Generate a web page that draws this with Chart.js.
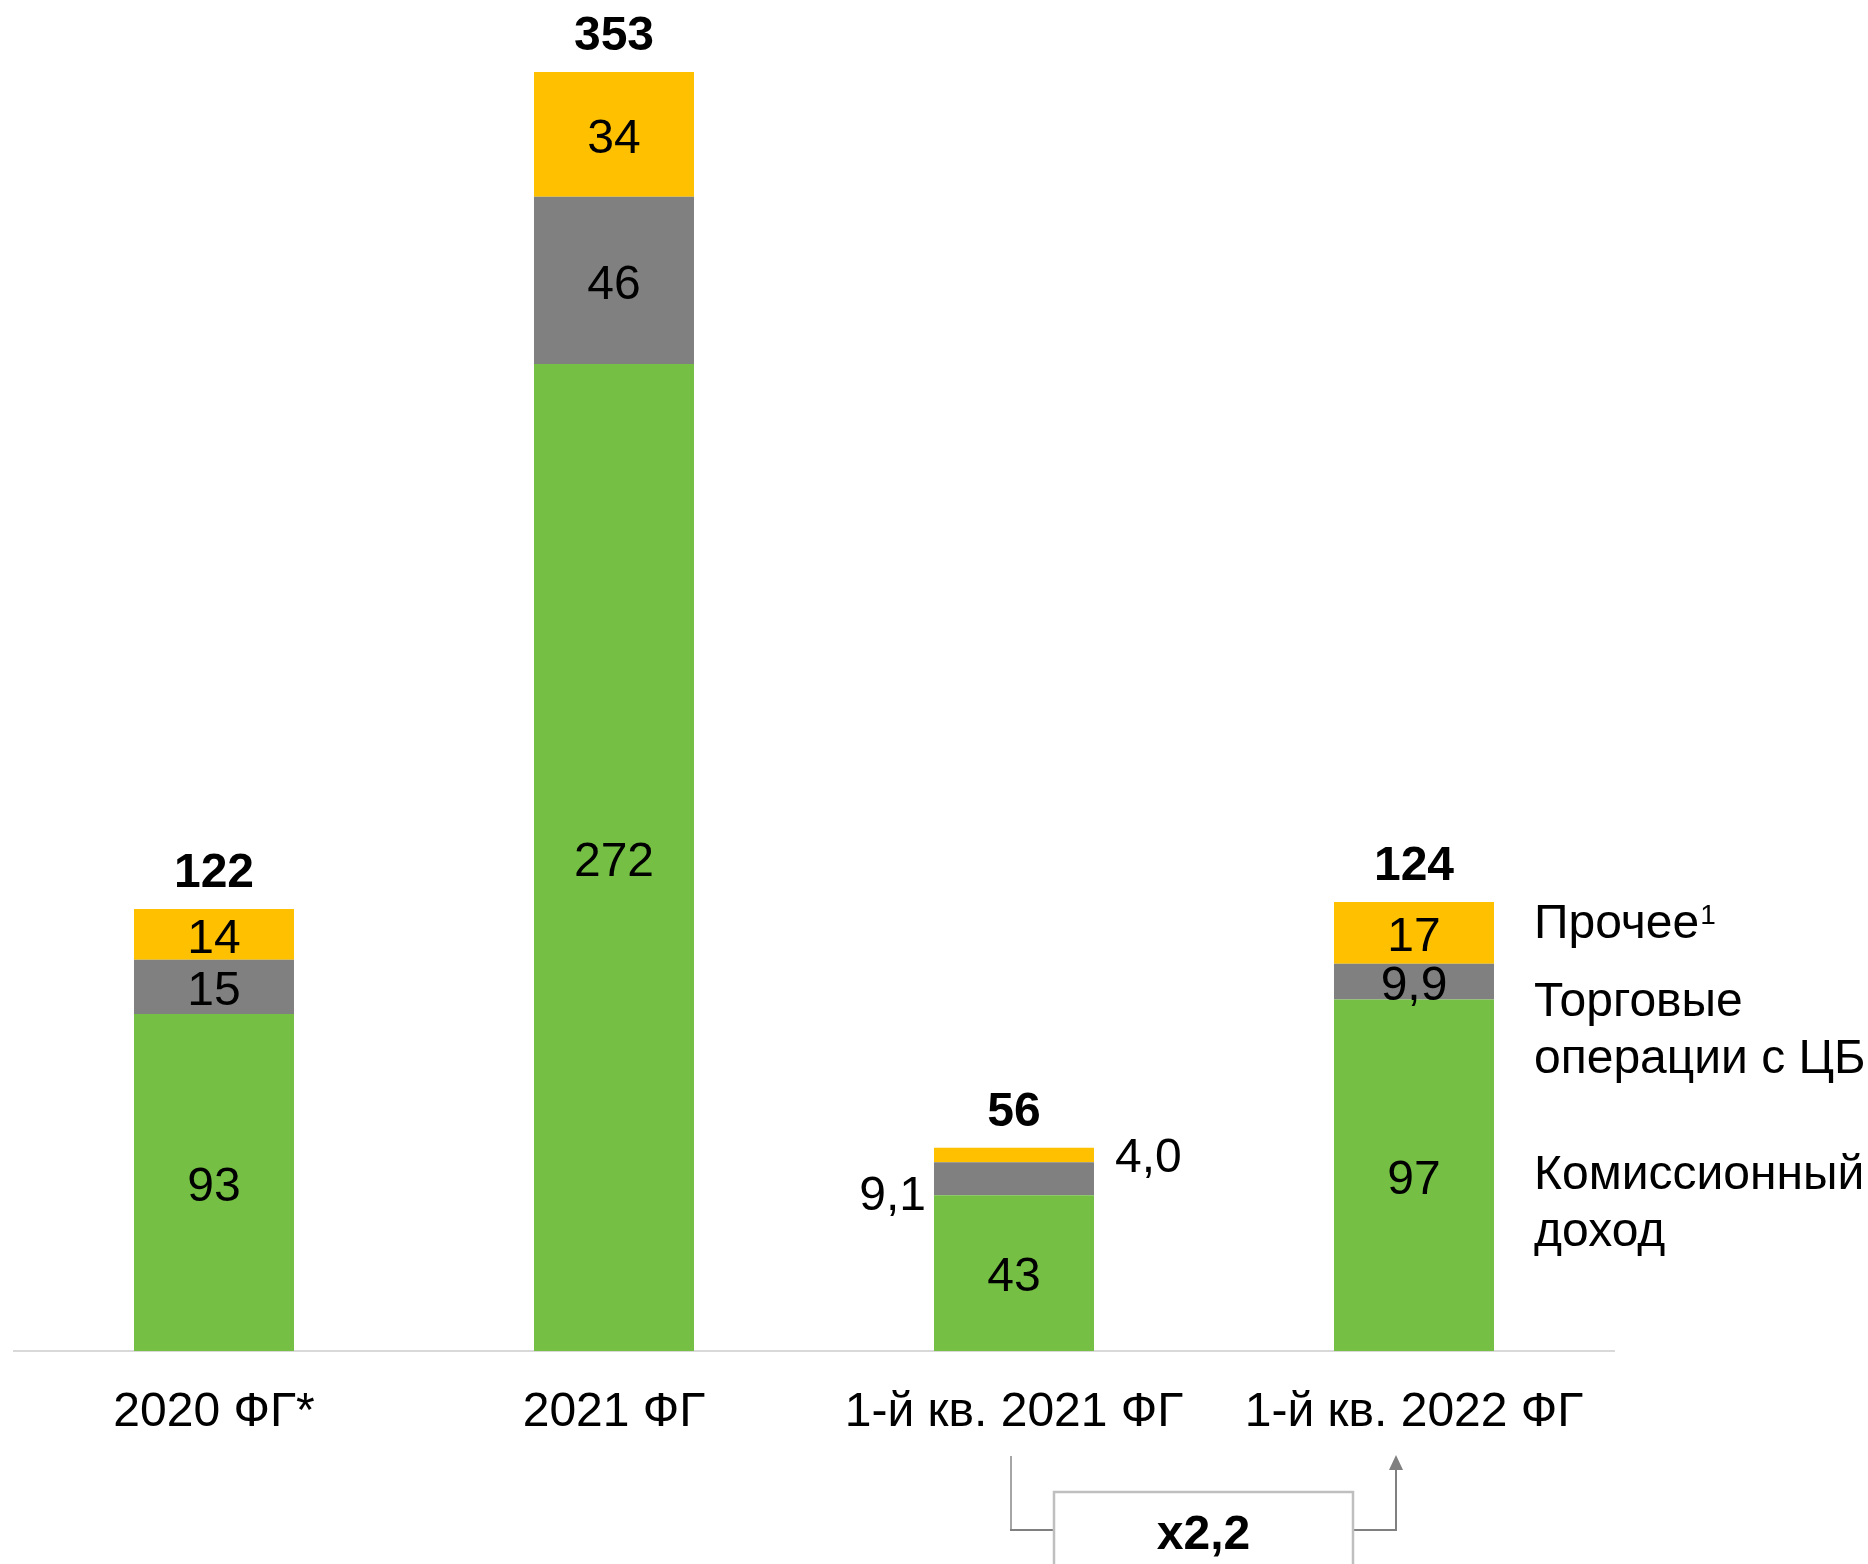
<!DOCTYPE html>
<html>
<head>
<meta charset="utf-8">
<script src="https://cdn.jsdelivr.net/npm/chart.js@4"></script>
<style>
  html, body { margin: 0; padding: 0; background: #ffffff; }
  canvas { display: block; }
</style>
</head>
<body>
<canvas id="c" width="1868" height="1564"></canvas>
<script>
// ---- data ----
const categories = ['2020 ФГ*', '2021 ФГ', '1-й кв. 2021 ФГ', '1-й кв. 2022 ФГ'];
const commission = [93, 272.4, 43, 97];     // Комиссионный доход
const trading    = [15, 46.2, 9.1, 9.9];    // Торговые операции с ЦБ
const other      = [14, 34.4, 4.0, 17];     // Прочее
const seriesNames = ['Комиссионный доход', 'Торговые операции с ЦБ', 'Прочее'];
const legendLines = [['Прочее'], ['Торговые', 'операции с ЦБ'], ['Комиссионный', 'доход']];
const growthLabel = 'x2,2';

const FONT = '"Liberation Sans", Arial, Helvetica, sans-serif';
const FS = 48;
const colors = ['#75BF44', '#808080', '#FFC000'];

function fmt(v) {
  if (v >= 10) return String(Math.round(v));
  return v.toFixed(1).replace('.', ',');
}

const labelPlugin = {
  id: 'labels',
  afterDatasetsDraw(chart) {
    const ctx = chart.ctx;
    const ds = chart.data.datasets;
    ctx.save();
    ctx.fillStyle = '#000';
    ctx.font = FS + 'px ' + FONT;
    ctx.textBaseline = 'middle';
    ds.forEach((d, i) => {
      const meta = chart.getDatasetMeta(i);
      meta.data.forEach((bar, j) => {
        const t = fmt(d.data[j]);
        const half = bar.width / 2;
        if (j === 2 && i === 1) {
          ctx.textAlign = 'right';
          ctx.fillText(t, bar.x - half - 8, bar.base + 2);
        } else if (j === 2 && i === 2) {
          ctx.textAlign = 'left';
          ctx.fillText(t, bar.x + half + 21, (bar.y + bar.base) / 2 + 4);
        } else {
          ctx.textAlign = 'center';
          ctx.fillText(t, bar.x, (bar.y + bar.base) / 2 + 5);
        }
      });
    });
    // totals
    ctx.font = 'bold ' + FS + 'px ' + FONT;
    ctx.textAlign = 'center';
    const topMeta = chart.getDatasetMeta(ds.length - 1);
    categories.forEach((c, j) => {
      let s = 0;
      ds.forEach(d => s += d.data[j]);
      const bar = topMeta.data[j];
      ctx.fillText(String(Math.round(s)), bar.x, bar.y - 35);
    });

    // legend text on the right
    ctx.font = FS + 'px ' + FONT;
    ctx.textAlign = 'left';
    ctx.textBaseline = 'alphabetic';
    const lx = 1534;
    ctx.fillText(legendLines[0][0], lx, 938);
    const w = ctx.measureText(legendLines[0][0]).width;
    ctx.font = '28px ' + FONT;
    ctx.fillText('1', lx + w + 1, 924);
    ctx.font = FS + 'px ' + FONT;
    ctx.fillText(legendLines[1][0], lx, 1016);
    ctx.fillText(legendLines[1][1], lx, 1073);
    ctx.fillText(legendLines[2][0], lx, 1189);
    ctx.fillText(legendLines[2][1], lx, 1246);

    // growth bracket
    const xs = chart.scales.x;
    const xL = xs.getPixelForValue(2) - 3;
    const xR = xs.getPixelForValue(3) - 18;
    const boxL = 1054, boxR = 1353, boxT = 1492, yH = 1530;
    ctx.lineWidth = 2;
    ctx.strokeStyle = '#A6A6A6';
    ctx.beginPath(); ctx.moveTo(xL, 1456); ctx.lineTo(xL, yH); ctx.stroke();
    ctx.strokeStyle = '#808080';
    ctx.beginPath(); ctx.moveTo(xL - 1, yH); ctx.lineTo(boxL, yH); ctx.stroke();
    ctx.beginPath(); ctx.moveTo(boxR, yH); ctx.lineTo(xR, yH); ctx.lineTo(xR, 1468); ctx.stroke();
    ctx.fillStyle = '#808080';
    ctx.beginPath(); ctx.moveTo(xR, 1455); ctx.lineTo(xR - 7, 1470); ctx.lineTo(xR + 7, 1470); ctx.closePath(); ctx.fill();
    ctx.fillStyle = '#ffffff';
    ctx.fillRect(boxL, boxT, boxR - boxL, 100);
    ctx.strokeStyle = '#BFBFBF';
    ctx.lineWidth = 2.5;
    ctx.beginPath(); ctx.moveTo(boxL, 1600); ctx.lineTo(boxL, boxT); ctx.lineTo(boxR, boxT); ctx.lineTo(boxR, 1600); ctx.stroke();
    ctx.fillStyle = '#000';
    ctx.font = 'bold ' + FS + 'px ' + FONT;
    ctx.textAlign = 'center';
    ctx.textBaseline = 'middle';
    ctx.fillText(growthLabel, (boxL + boxR) / 2, 1536);
    ctx.restore();
  }
};

new Chart(document.getElementById('c'), {
  type: 'bar',
  data: {
    labels: categories,
    datasets: [
      { label: seriesNames[0], data: commission, backgroundColor: colors[0] },
      { label: seriesNames[1], data: trading, backgroundColor: colors[1] },
      { label: seriesNames[2], data: other, backgroundColor: colors[2] }
    ]
  },
  options: {
    responsive: false,
    animation: false,
    devicePixelRatio: 1,
    layout: { padding: { left: 14, right: 254, top: 0, bottom: 0 } },
    datasets: { bar: { categoryPercentage: 1, barPercentage: 0.4 } },
    plugins: { legend: { display: false }, tooltip: { enabled: false } },
    scales: {
      x: {
        stacked: true,
        grid: { display: false },
        border: { display: true, color: '#D9D9D9', width: 2 },
        ticks: { color: '#000', font: { family: FONT, size: FS }, padding: 25, maxRotation: 0, autoSkip: false },
        afterFit(s) { s.height = 213; }
      },
      y: {
        stacked: true,
        display: false,
        min: 0,
        max: 372.9
      }
    }
  },
  plugins: [labelPlugin]
});
</script>
</body>
</html>
